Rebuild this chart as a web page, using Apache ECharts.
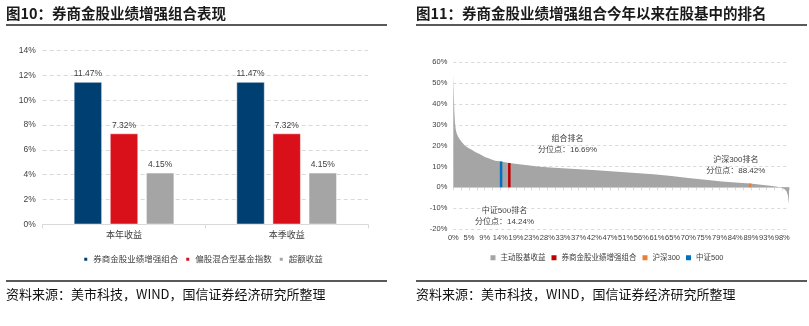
<!DOCTYPE html>
<html><head><meta charset="utf-8">
<script src="https://cdn.jsdelivr.net/npm/echarts@6/dist/echarts.min.js"></script>
<style>
html,body{margin:0;padding:0;background:#fff;width:809px;height:326px;overflow:hidden}
#l{position:absolute;left:0;top:0;width:405px;height:326px}
#r{position:absolute;left:405px;top:0;width:404px;height:326px}
</style>
</head><body><div id="l"></div><div id="r"></div>
<script>
// ---- Left chart data ----
const barCategories = ['本年收益', '本季收益'];
const barSeriesNames = ['券商金股业绩增强组合', '偏股混合型基金指数', '超额收益'];
const portfolioReturn = [11.47, 11.47];
const fundIndexReturn = [7.32, 7.32];
const excessReturn = [4.15, 4.15];

// ---- Right chart data ----
const rankPct = [0, 0.15, 0.3, 0.5, 0.7, 1.0, 1.5, 2.5, 3.5, 4.5, 5.5, 6.5, 7.5, 8.5, 9.4, 10.5, 11.4, 12.5, 14.24, 16.69, 19, 22.2, 25.8, 30, 35, 42.7, 50, 59.6, 65, 70, 76.5, 80, 85, 88.42, 91, 93, 95, 97, 98, 98.8, 99.3, 99.7, 100];
const rankReturn = [54, 45, 37, 31, 28, 26, 24, 21.8, 20, 18.9, 18, 17, 16.2, 15.4, 14.6, 13.9, 13.3, 12.8, 12.4, 11.7, 11.2, 10.6, 9.9, 9.4, 8.9, 8.2, 7.3, 6.25, 5.4, 4.5, 3.4, 2.8, 2.2, 1.8, 1.4, 1.0, 0.6, 0.2, -0.3, -1.0, -2.0, -4.0, -8];
const rankTickLabels = ['0%','5%','9%','14%','19%','23%','28%','33%','37%','42%','47%','51%','56%','61%','65%','70%','75%','79%','84%','89%','93%','98%'];
const rankSeriesName = '主动股基收益';
const markerNames = ['券商金股业绩增强组合', '沪深300', '中证500'];
const markerPct = [16.69, 88.42, 14.24];
const markerTop = [11.7, 1.8, 12.4];

const FF = "'Liberation Sans', 'Noto Sans CJK SC', sans-serif";
const CJK = "'Noto Sans CJK SC', sans-serif";

function frame(title, x0, x1) {
  return [
    {type:'text', left:x0, top:6, style:{text:title, font:'bold 14.5px ' + CJK, fill:'#1a1a1a'}},
    {type:'line', shape:{x1:x0, y1:25, x2:x1, y2:25}, style:{stroke:'#222', lineWidth:1.5}},
    {type:'line', shape:{x1:x0, y1:281, x2:x1, y2:281}, style:{stroke:'#222', lineWidth:1.5}},
    {type:'text', left:x0, top:288, style:{text:'资料来源：美市科技，WIND，国信证券经济研究所整理', font:'13px ' + CJK, fill:'#111'}}
  ];
}

// ---------- Left ----------
const left = echarts.init(document.getElementById('l'), null, {renderer:'canvas'});
const barColors = ['#003F72', '#D9101A', '#A5A5A5'];
const barData = [portfolioReturn, fundIndexReturn, excessReturn];
left.setOption({
  animation:false,
  textStyle:{fontFamily:FF},
  graphic: frame('图10：券商金股业绩增强组合表现', 6, 387),
  legend:{
    data: barSeriesNames, left:'center', top:250, icon:'rect', itemWidth:5, itemHeight:5, itemGap:6,
    textStyle:{fontSize:8.5, color:'#404040', fontFamily:FF}
  },
  grid:{left:42.7, right:37, top:50.7, bottom:101.7},
  xAxis:{
    type:'category', data:barCategories,
    axisLine:{lineStyle:{color:'#D9D9D9'}},
    axisTick:{show:true, length:4, lineStyle:{color:'#D9D9D9'}},
    axisLabel:{fontSize:9, color:'#404040', margin:7}
  },
  yAxis:{
    type:'value', min:0, max:14, interval:2,
    axisLine:{show:false}, axisTick:{show:false},
    axisLabel:{formatter:'{value}%', fontSize:8.5, color:'#404040', margin:7},
    splitLine:{lineStyle:{color:'#D9D9D9', type:[4,3]}}
  },
  series: barSeriesNames.map((n, i) => ({
    name:n, type:'bar', data:barData[i], barWidth:28, barGap:'29%',
    itemStyle:{color:barColors[i], borderColor:'#fff', borderWidth:0.5},
    label:{show:true, position:'top', distance:4, fontSize:8.5, color:'#404040',
      formatter:p => p.value.toFixed(2) + '%'}
  }))
});

// ---------- Right ----------
const right = echarts.init(document.getElementById('r'), null, {renderer:'canvas'});
const step = 14 / 3;
const markerColors = ['#C00000', '#ED7D31', '#0070C0'];
const ann = (t, x, y) => ({type:'text', x:x, y:y, style:{text:t, font:'8px ' + FF, fill:'#404040', align:'center', verticalAlign:'middle'}});
right.setOption({
  animation:false,
  textStyle:{fontFamily:FF},
  graphic: frame('图11：券商金股业绩增强组合今年以来在股基中的排名', 11, 402).concat([
    ann('组合排名', 162.5, 139), ann('分位点：16.69%', 162.5, 149.5),
    ann('中证500排名', 99.5, 211), ann('分位点：14.24%', 99.5, 221.7),
    ann('沪深300排名', 330.8, 159.3), ann('分位点：88.42%', 330.8, 170.7)
  ]),
  legend:{
    data:[rankSeriesName].concat(markerNames), left:'center', top:249, icon:'rect', itemWidth:5, itemHeight:5, itemGap:6,
    textStyle:{fontSize:7.5, color:'#404040', fontFamily:FF}
  },
  grid:{left:48.3, right:20, top:62.3, bottom:97},
  xAxis:[{
    type:'value', min:0, max:100, interval:step, position:'bottom',
    axisLine:{show:false, onZero:false}, axisTick:{show:false}, splitLine:{show:false},
    axisLabel:{fontSize:7.5, color:'#404040', margin:5,
      formatter:v => { const i = Math.round(v / step); return (Math.abs(v - i * step) < 1e-6 && i < rankTickLabels.length) ? rankTickLabels[i] : ''; }}
  },{
    type:'value', min:0, max:100, interval:step, position:'top',
    axisLine:{show:true, onZero:true, lineStyle:{color:'#D9D9D9'}},
    axisTick:{show:true, inside:true, length:3, lineStyle:{color:'#D9D9D9'}},
    minorTick:{show:true, splitNumber:2, length:3, lineStyle:{color:'#D9D9D9'}},
    axisLabel:{show:false}, splitLine:{show:false}
  }],
  yAxis:{
    type:'value', min:-20, max:60, interval:10,
    axisLine:{show:false}, axisTick:{show:false},
    axisLabel:{formatter:'{value}%', fontSize:7.5, color:'#404040', margin:6},
    splitLine:{lineStyle:{color:'#D9D9D9', type:[3,3]}}
  },
  series:[{
    name:rankSeriesName, type:'line', showSymbol:false, symbol:'none',
    data: rankPct.map((p, i) => [p, rankReturn[i]]),
    lineStyle:{width:0}, itemStyle:{color:'#A5A5A5'},
    areaStyle:{color:'#A5A5A5', opacity:1}
  }].concat(markerNames.map((n, i) => ({
    name:n, type:'line', showSymbol:false, symbol:'none',
    data:[[markerPct[i], 0], [markerPct[i], markerTop[i]]],
    lineStyle:{width:2.5, color:markerColors[i]}, itemStyle:{color:markerColors[i]}
  })))
});
</script>
</body></html>
